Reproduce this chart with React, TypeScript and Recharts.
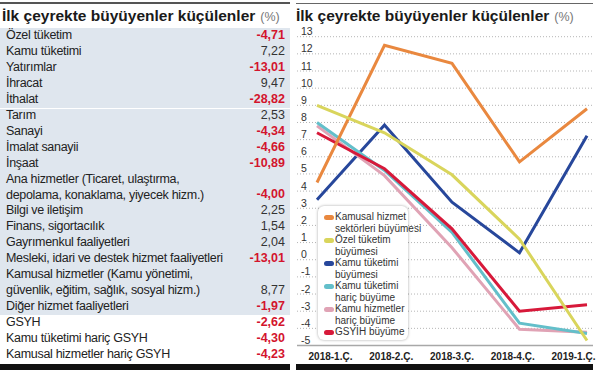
import { LineChart, Line, XAxis, YAxis, CartesianGrid, Legend } from "recharts";

// tablo
const tableLabels = [
  "Özel tüketim",
  "Kamu tüketimi",
  "Yatırımlar",
  "İhracat",
  "İthalat",
  "Tarım",
  "Sanayi",
  "İmalat sanayii",
  "İnşaat",
  "Ana hizmetler (Ticaret, ulaştırma,\ndepolama, konaklama, yiyecek hizm.)",
  "Bilgi ve iletişim",
  "Finans, sigortacılık",
  "Gayrımenkul faaliyetleri",
  "Mesleki, idari ve destek hizmet faaliyetleri",
  "Kamusal hizmetler (Kamu yönetimi,\ngüvenlik, eğitim, sağlık, sosyal hizm.)",
  "Diğer hizmet faaliyetleri",
  "GSYH",
  "Kamu tüketimi hariç GSYH",
  "Kamusal hizmetler hariç GSYH",
];
const tableValues = [
  -4.71, 7.22, -13.01, 9.47, -28.82, 2.53, -4.34, -4.66, -10.89, -4.0, 2.25,
  1.54, 2.04, -13.01, 8.77, -1.97, -2.62, -4.3, -4.23,
];

// grafik
const quarters = ["2018-1.Ç.", "2018-2.Ç.", "2018-3.Ç.", "2018-4.Ç.", "2019-1.Ç."];
const kamusalHizmet = [4.5, 12.5, 11.45, 5.7, 8.8];
const ozelTuketim = [9.0, 7.4, 4.95, 1.2, -4.71];
const kamuTuketimi = [3.5, 7.85, 3.35, 0.4, 7.22];
const kamuTuketimiHaric = [8.0, 5.2, 1.6, -3.7, -4.3];
const kamuHizmetlerHaric = [7.8, 4.9, 0.7, -4.05, -4.23];
const gsyih = [7.4, 5.3, 1.8, -3.0, -2.62];
const yTicks = [-5, -4, -3, -2, -1, 0, 1, 2, 3, 4, 5, 6, 7, 8, 9, 10, 11, 12, 13];

const series = [
  { key: "kamusal", name: "Kamusal hizmet\nsektörleri büyümesi", color: "#e9883f", values: kamusalHizmet },
  { key: "ozel", name: "Özel tüketim\nbüyümesi", color: "#d9d55c", values: ozelTuketim },
  { key: "kamu", name: "Kamu tüketimi\nbüyümesi", color: "#27479b", values: kamuTuketimi },
  { key: "kamuHaric", name: "Kamu tüketimi\nhariç büyüme", color: "#63bfca", values: kamuTuketimiHaric },
  { key: "hizmetHaric", name: "Kamu hizmetler\nhariç büyüme", color: "#e0a3b5", values: kamuHizmetlerHaric },
  { key: "gsyih", name: "GSYİH büyüme", color: "#d7193a", values: gsyih },
];
// çizim sırası (üstte kalan en sonda)
const drawOrder = ["kamu", "hizmetHaric", "kamuHaric", "gsyih", "kamusal", "ozel"];

const chartData = quarters.map((q, i) => {
  const row: Record<string, string | number> = { q };
  series.forEach((s) => (row[s.key] = s.values[i]));
  return row;
});

const FONT = "'Liberation Sans Narrow', 'Liberation Sans', sans-serif";
const LINE_H = 15.95;

const fmt = (v: number) => v.toFixed(2).replace(".", ",");

function Title({ left }: { left: number }) {
  return (
    <div
      style={{
        position: "absolute",
        left,
        top: 5,
        whiteSpace: "nowrap",
        fontFamily: FONT,
        lineHeight: "22px",
      }}
    >
      <span style={{ fontWeight: 700, fontSize: 15.5, color: "#1a1a1a" }}>
        İlk çeyrekte büyüyenler küçülenler
      </span>
      <span style={{ fontSize: 12.5, color: "#777", marginLeft: 5 }}>(%)</span>
    </div>
  );
}

function Table() {
  let line = 0;
  const rows = tableLabels.map((label, i) => {
    const lines = label.split("\n");
    const top = 28 + line * LINE_H;
    line += lines.length;
    const v = tableValues[i];
    return (
      <div
        key={i}
        style={{
          position: "absolute",
          left: 0,
          top,
          width: 290,
          height: lines.length * LINE_H,
          background: i < 16 ? "#dfe6ee" : "#ffffff",
          borderTop: i === 5 ? "1px solid #ffffff" : undefined,
          boxSizing: "border-box",
        }}
      >
        <div
          style={{
            position: "absolute",
            left: 6,
            top: i === 5 ? -1 : 0,
            lineHeight: `${LINE_H}px`,
            whiteSpace: "pre",
            color: "#222",
            letterSpacing: -0.3,
          }}
        >
          {label}
        </div>
        <div
          style={{
            position: "absolute",
            right: 5,
            bottom: 0,
            lineHeight: `${LINE_H}px`,
            color: v < 0 ? "#d3142d" : "#333",
            fontWeight: v < 0 ? 700 : 400,
          }}
        >
          {fmt(v)}
        </div>
      </div>
    );
  });
  return <div style={{ fontFamily: FONT, fontSize: 12.5 }}>{rows}</div>;
}

const XTick = (props: any) => {
  const { x, y, payload } = props;
  const cx = 452 + (x - 452) * 0.9;
  return (
    <text x={cx} y={y + 12} textAnchor="middle" fontFamily={FONT} fontSize={10} fontWeight={700} fill="#222">
      {payload.value}
    </text>
  );
};

const YTick = (props: any) => {
  const { x, y, payload } = props;
  return (
    <text x={x + 4} y={y - 1.5} textAnchor="start" fontFamily={FONT} fontSize={10.5} fill="#333">
      {payload.value}
    </text>
  );
};

const LegendBox = (props: any) => {
  const payload = (props.payload || []).slice();
  payload.sort(
    (a: any, b: any) =>
      series.findIndex((s) => s.key === a.dataKey) - series.findIndex((s) => s.key === b.dataKey)
  );
  return (
    <div
      style={{
        width: 90,
        height: 134,
        boxSizing: "border-box",
        padding: "5px 2px 0 6px",
        background: "#fff",
        borderRadius: 6,
        boxShadow: "0 0 3px rgba(0,0,0,0.35)",
        fontFamily: FONT,
        fontSize: 10,
        color: "#333",
      }}
    >
      {payload.map((p: any) => (
        <div key={p.dataKey} style={{ position: "relative", paddingLeft: 11, lineHeight: "11.5px", whiteSpace: "pre" }}>
          <span
            style={{
              position: "absolute",
              left: 0,
              top: 3.5,
              width: 10,
              height: 5,
              borderRadius: 3,
              background: p.color,
            }}
          />
          {p.value}
        </div>
      ))}
    </div>
  );
};

export default function App() {
  return (
    <div style={{ position: "absolute", left: 0, top: 0, width: 600, height: 370, overflow: "hidden", background: "#fff" }}>
      {/* üst ve alt çizgiler */}
      <div style={{ position: "absolute", left: 0, top: 2, width: 290, height: 1.5, background: "#555" }} />
      <div style={{ position: "absolute", left: 296, top: 3, width: 297, height: 1.2, background: "#666" }} />
      <div style={{ position: "absolute", left: 0, top: 364, width: 290, height: 6, background: "#111" }} />
      <div style={{ position: "absolute", left: 296, top: 364, width: 297, height: 6, background: "#111" }} />
      <Title left={2} />
      <Title left={296} />
      <Table />
      <div style={{ position: "absolute", left: 0, top: 0 }}>
        <LineChart
          width={600}
          height={370}
          data={chartData}
          margin={{ top: 36.7, right: 7, bottom: 4.5, left: 277 }}
        >
          <CartesianGrid horizontal vertical={false} stroke="#b5b5b5" strokeDasharray="1 2" />
          <XAxis
            dataKey="q"
            height={20}
            interval={0}
            padding={{ left: 20, right: 6 }}
            axisLine={{ stroke: "#a8a8a8", strokeWidth: 1.5 }}
            tickLine={false}
            tickSize={0}
            tick={<XTick />}
          />
          <YAxis
            width={20}
            domain={[-5, 13]}
            ticks={yTicks}
            interval={0}
            axisLine={false}
            tickLine={false}
            tickSize={0}
            tickMargin={0}
            tick={<YTick />}
          />
          <Legend
            layout="vertical"
            align="center"
            verticalAlign="middle"
            wrapperStyle={{ left: 318, top: 206, width: 90 }}
            content={<LegendBox />}
          />
          {drawOrder.map((k) => {
            const s = series.find((x) => x.key === k)!;
            return (
              <Line
                key={s.key}
                type="linear"
                dataKey={s.key}
                name={s.name}
                stroke={s.color}
                strokeWidth={3}
                dot={false}
                activeDot={false}
                isAnimationActive={false}
              />
            );
          })}
        </LineChart>
      </div>
    </div>
  );
}
